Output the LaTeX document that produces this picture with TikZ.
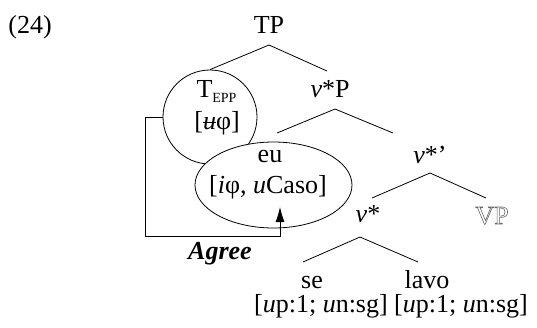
\documentclass[tikz,border=0pt]{standalone}
\usepackage{fontspec}
\setmainfont{Liberation Serif}
\usetikzlibrary{shapes.geometric,arrows.meta,calc}
\newcommand{\ustrike}{\makebox[0pt][l]{\textit{u}}\rule[0.22em]{0.5em}{0.055em}}
\begin{document}
\begin{tikzpicture}[x=1pt,y=-1pt,line width=0.8pt,
  lbl/.style={anchor=base,inner sep=0pt,font=\fontsize{26}{30}\selectfont},
  branch/.style={line width=0.8pt}]
\useasboundingbox (0,0) rectangle (537,327);
% labels
\node[lbl,anchor=base west] (ex) at (8,33) {(24)};
\node[lbl] (TP) at (269,33) {TP};
\node[lbl] (vP) at (330,97) {\textit{v}*P};
\node[lbl] (vbar) at (430,163) {\textit{v}*’};
\node[lbl] (v) at (368,222) {\textit{v}*};
\node[lbl,text depth=0pt] (se) at (312,288) {se};
\node[lbl,text depth=0pt] (lavo) at (427,288) {lavo};
\node[lbl] (feat) at (391,312) {[\textit{u}p:1; \textit{u}n:sg] [\textit{u}p:1; \textit{u}n:sg]};
% circle and ellipse
\node[circle,draw,minimum size=94pt,inner sep=0pt] (T) at (210,117) {};
\node[ellipse,draw,fill=white,minimum width=157pt,minimum height=86pt,inner sep=0pt] (E) at (273.5,185) {};
\node[lbl] (Tl) at (216.5,97) {T\raisebox{-5pt}{\fontsize{14}{14}\selectfont EPP}};
\node[lbl] (Tf) at (217,129) {[\ustrike φ]};
\node[lbl] (eu) at (270,162) {eu};
\node[lbl] (euf) at (268,193) {[\textit{i}φ, \textit{u}Caso]};
\node[lbl] (agree) at (220,259) {\textbf{\textit{Agree}}};
% branch apexes
\coordinate (a1) at ($(TP.base)+(0,12)$);
\coordinate (a2) at ($(vP.base)+(5,12)$);
\coordinate (a3) at ($(vbar.base)+(0,10)$);
\coordinate (a4) at ($(v.base)+(-8,15)$);
\draw[branch] (T.north) -- (a1) -- ($(a1)+(58,26)$);
\draw[branch] ($(a2)+(-58,24)$) -- (a2) -- ($(a2)+(58,24)$);
\draw[branch] ($(a3)+(-58,25)$) -- (a3) -- ($(a3)+(56,25)$);
\draw[branch] ($(a4)+(-57,25)$) -- (a4) -- ($(a4)+(58,25)$);
% agree arrow
\coordinate (corner) at (145,236);
\coordinate (tip) at (280,207);
\draw[-{Latex[length=15pt,width=9pt]}] (T.west) -- (corner |- T.west) -- (corner) -| (tip);
% VP outlined
\node[lbl] (VP) at (492,224) {\special{pdf:literal direct 1 Tr 0.6 w 0.4 G}VP\special{pdf:literal direct 0 Tr 0 G}};
\end{tikzpicture}
\end{document}
